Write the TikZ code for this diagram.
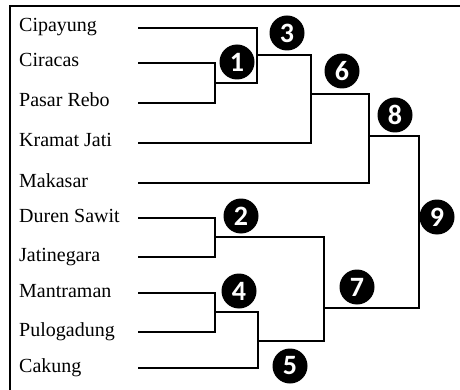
\documentclass[tikz,border=0pt]{standalone}
\usepackage{fontspec}
\setmainfont{Liberation Serif}
\newfontfamily\namefont{Liberation Serif}
\newfontfamily\numfont{Carlito}
\begin{document}
\begin{tikzpicture}[x=1pt,y=-1pt,
  lbl/.style={anchor=base west,inner sep=0pt,font=\namefont\fontsize{20}{22}\selectfont},
  link/.style={line width=2.2pt,line cap=rect,line join=miter},
  badge/.style={circle,fill=black,text=white,minimum size=35pt,inner sep=0pt,
    font=\numfont\bfseries\fontsize{28}{28}\selectfont}]
\useasboundingbox (0,0) rectangle (460,390);
\fill[white] (0,0) rectangle (460,390);
% frame (only top and left edges fall inside the page)
\draw[line width=2.4pt] (10,390) -- (10,6) -- (460,6);

% district names
\node[lbl] (n1)  at (19,32)  {Cipayung};
\node[lbl] (n2)  at (19,67)  {Ciracas};
\node[lbl] (n3)  at (19,107) {Pasar Rebo};
\node[lbl] (n4)  at (19,147) {Kramat Jati};
\node[lbl] (n5)  at (19,187) {Makasar};
\node[lbl] (n6)  at (19,222) {Duren Sawit};
\node[lbl] (n7)  at (19,261) {Jatinegara};
\node[lbl] (n8)  at (19,297) {Mantraman};
\node[lbl] (n9)  at (19,336) {Pulogadung};
\node[lbl] (n10) at (19,372) {Cakung};

% leaf ends
\coordinate (l1)  at (139,28);
\coordinate (l2)  at (139,63);
\coordinate (l3)  at (139,103);
\coordinate (l4)  at (139,143);
\coordinate (l5)  at (139,183);
\coordinate (l6)  at (139,218);
\coordinate (l7)  at (139,257);
\coordinate (l8)  at (139,293);
\coordinate (l9)  at (139,332);
\coordinate (l10) at (139,368);

% merge points (x of the vertical bar, y of the outgoing branch)
\coordinate (m1) at (215,83);
\coordinate (m3) at (257,55);
\coordinate (m6) at (311,94);
\coordinate (m8) at (369,136);
\coordinate (m2) at (215,237);
\coordinate (m4) at (215,312);
\coordinate (m5) at (258,341);
\coordinate (m7) at (324,308);
\coordinate (m9) at (419,220);

% dendrogram
\draw[link] (l2) -- (l2 -| m1) -- (l3 -| m1) -- (l3);
\draw[link] (m1) -- (m1 -| m3);
\draw[link] (l1) -- (l1 -| m3) -- (m1 -| m3);
\draw[link] (m3) -- (m3 -| m6) -- (l4 -| m6) -- (l4);
\draw[link] (m6) -- (m6 -| m8) -- (l5 -| m8) -- (l5);
\draw[link] (m8) -- (m8 -| m9) -- (m7 -| m9) -- (m7);
\draw[link] (l6) -- (l6 -| m2) -- (l7 -| m2) -- (l7);
\draw[link] (m2) -- (m2 -| m7) -- (m5 -| m7) -- (m5);
\draw[link] (l8) -- (l8 -| m4) -- (l9 -| m4) -- (l9);
\draw[link] (m4) -- (m4 -| m5) -- (l10 -| m5) -- (l10);

% step numbers
\node[badge] (b1) at (237,62)  {1};
\node[badge] (b2) at (241,216) {2};
\node[badge] (b3) at (287,33)  {3};
\node[badge] (b4) at (239,291) {4};
\node[badge] (b5) at (290,366) {5};
\node[badge] (b6) at (342,71)  {6};
\node[badge] (b7) at (357,287) {7};
\node[badge] (b8) at (395,115) {8};
\node[badge] (b9) at (437,217) {9};
\end{tikzpicture}
\end{document}
